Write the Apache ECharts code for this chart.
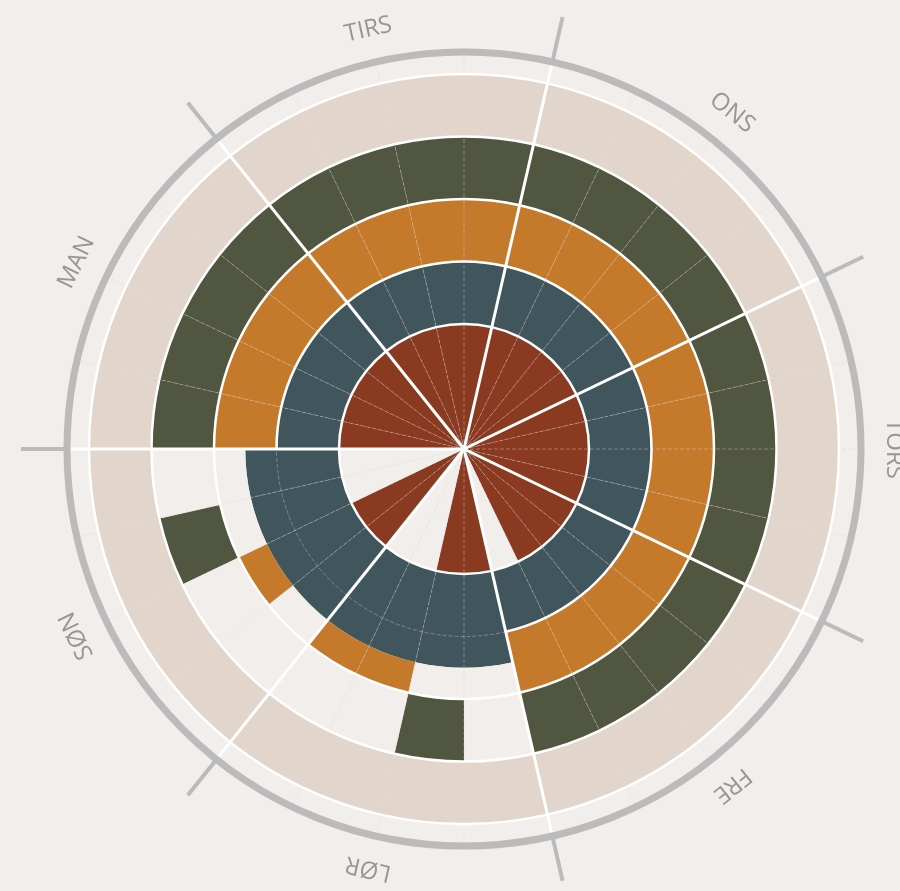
<!DOCTYPE html>
<html>
<head>
<meta charset="utf-8">
<title>Uke</title>
<script src="https://cdn.jsdelivr.net/npm/echarts@6/dist/echarts.min.js"></script>
<style>
	html, body { margin: 0; padding: 0; background: #f1eeeb; }
	#chart { width: 900px; height: 891px; }
</style>
</head>
<body>
<div id="chart"></div>
<script>
var days = ['MAN', 'TIRS', 'ONS', 'TORS', 'FRE', 'LØR', 'SØN'];
var periods = 4;

// verdier per celle, 7 dager x 4 perioder
var red    = [2, 2, 2, 2,  2, 2, 2, 2,  2, 2, 2, 2,  2, 2, 2, 2,  2, 2, 2, 0,  2, 2, 0, 0,  2, 2, 0, 0];
var slate  = [1, 1, 1, 1,  1, 1, 1, 1,  1, 1, 1, 1,  1, 1, 1, 1,  1, 1, 1, 1,  1.5, 1.5, 1.5, 1.5,  1.5, 1.5, 1.5, 1.5];
var orange = [1, 1, 1, 1,  1, 1, 1, 1,  1, 1, 1, 1,  1, 1, 1, 1,  1, 1, 1, 1,  0, 0, 0.5, 0.5,  0, 0.5, 0, 0];
var olive  = [1, 1, 1, 1,  1, 1, 1, 1,  1, 1, 1, 1,  1, 1, 1, 1,  1, 1, 1, 1,  0, 1, 0, 0,  0, 0, 1, 0];
var beige  = [1, 1, 1, 1,  1, 1, 1, 1,  1, 1, 1, 1,  1, 1, 1, 1,  1, 1, 1, 1,  1, 1, 1, 1,  1, 1, 1, 1];

var bg = '#f1eeeb';
var center = [464, 449];
var gridLine = 'rgba(222,214,207,0.38)';

var cells = [];
for (var d = 0; d < days.length; d++) {
	for (var p = 0; p < periods; p++) {
		cells.push(days[d] + ' ' + (p + 1));
	}
}

// tomrom i hvert baand
var redGap = red.map(function (v) { return 2 - v; });
var midGap = slate.map(function (v, i) { return 2 - v - orange[i]; });
var oliveGap = olive.map(function (v) { return 1 - v; });

function bar(name, values, color) {
	return {
		type: 'bar',
		name: name,
		coordinateSystem: 'polar',
		polarIndex: 0,
		stack: 'uke',
		barCategoryGap: '0%',
		data: values,
		silent: true,
		itemStyle: { color: color, borderWidth: 0 }
	};
}

function dist(q) {
	return Math.sqrt(Math.pow(q[0] - center[0], 2) + Math.pow(q[1] - center[1], 2));
}

function renderRings(params, api) {
	var i = api.value(1);
	var cs = params.coordSys;
	var c = api.coord([1, i]);
	var mid = Math.atan2(c[1] - cs.cy, c[0] - cs.cx);
	var half = Math.PI / cells.length;
	var stops = [2, 4, 5, 6];
	if (slate[i] === 1) stops.push(3);
	var children = stops.map(function (v) {
		var rr = dist(api.coord([v, i]));
		return {
			type: 'arc',
			shape: { cx: cs.cx, cy: cs.cy, r: rr, startAngle: mid - half, endAngle: mid + half, clockwise: true },
			style: { stroke: '#ffffff', lineWidth: 2.5, fill: null }
		};
	});
	if (i % periods === 0) {
		var len = dist(api.coord([6.29, i]));
		var a = mid - half;
		children.push({
			type: 'line',
			shape: { x1: cs.cx, y1: cs.cy, x2: cs.cx + len * Math.cos(a), y2: cs.cy + len * Math.sin(a) },
			style: { stroke: '#ffffff', lineWidth: 3 }
		});
	}
	return { type: 'group', children: children };
}

function renderLabel(params, api) {
	var d = api.value(1);
	var cs = params.coordSys;
	var q = api.coord([1, d]);
	var k = 430 / dist(q);
	var x = cs.cx + (q[0] - cs.cx) * k;
	var y = cs.cy + (q[1] - cs.cy) * k;
	var theta = Math.atan2(x - cs.cx, cs.cy - y);
	return {
		type: 'text',
		x: x,
		y: y,
		rotation: -theta,
		style: {
			text: days[d],
			fill: '#999592',
			font: '24px "Open Sans"',
			align: 'center',
			verticalAlign: 'middle'
		}
	};
}

var chart = echarts.init(document.getElementById('chart'));

var option = {
	backgroundColor: bg,
	animation: false,
	polar: [
		{ center: center, radius: 400 },
		{ center: center, radius: 397 }
	],
	angleAxis: [
		{
			polarIndex: 0,
			type: 'category',
			data: cells,
			startAngle: 180,
			clockwise: true,
			z: 10,
			axisLine: { show: false },
			axisTick: { show: false },
			axisLabel: { show: false },
			splitLine: { show: true, lineStyle: { color: gridLine, width: 1, type: 'dashed' } }
		},
		{
			polarIndex: 1,
			type: 'category',
			data: days,
			startAngle: 180,
			clockwise: true,
			z: 12,
			axisLine: { show: true, lineStyle: { color: '#bbbbbb', width: 7 } },
			axisTick: { show: true, length: 46, lineStyle: { color: '#bbbbbb', width: 4 } },
			axisLabel: { show: false },
			splitLine: { show: false }
		}
	],
	radiusAxis: [
		{
			polarIndex: 0,
			type: 'value',
			min: 0,
			max: 6.4,
			interval: 3,
			z: 10,
			axisLine: { show: false },
			axisTick: { show: false },
			axisLabel: { show: false },
			splitLine: { show: true, lineStyle: { color: gridLine, width: 1, type: 'dashed' } }
		},
		{
			polarIndex: 1,
			type: 'value',
			min: 0,
			max: 1,
			show: false
		}
	],
	series: [
		bar('rød', red, '#8a3a20'),
		bar('rød tom', redGap, bg),
		bar('blå', slate, '#41565c'),
		bar('oransje', orange, '#c47a2a'),
		bar('midt tom', midGap, bg),
		bar('oliven', olive, '#515641'),
		bar('oliven tom', oliveGap, bg),
		bar('beige', beige, '#e2d5cb'),
		{
			type: 'custom',
			coordinateSystem: 'polar',
			polarIndex: 0,
			z: 20,
			silent: true,
			renderItem: renderRings,
			data: cells.map(function (c, i) { return [6, i]; })
		},
		{
			type: 'custom',
			coordinateSystem: 'polar',
			polarIndex: 1,
			z: 20,
			silent: true,
			renderItem: renderLabel,
			data: days.map(function (c, i) { return [1, i]; })
		}
	]
};

chart.setOption(option);
</script>
</body>
</html>
